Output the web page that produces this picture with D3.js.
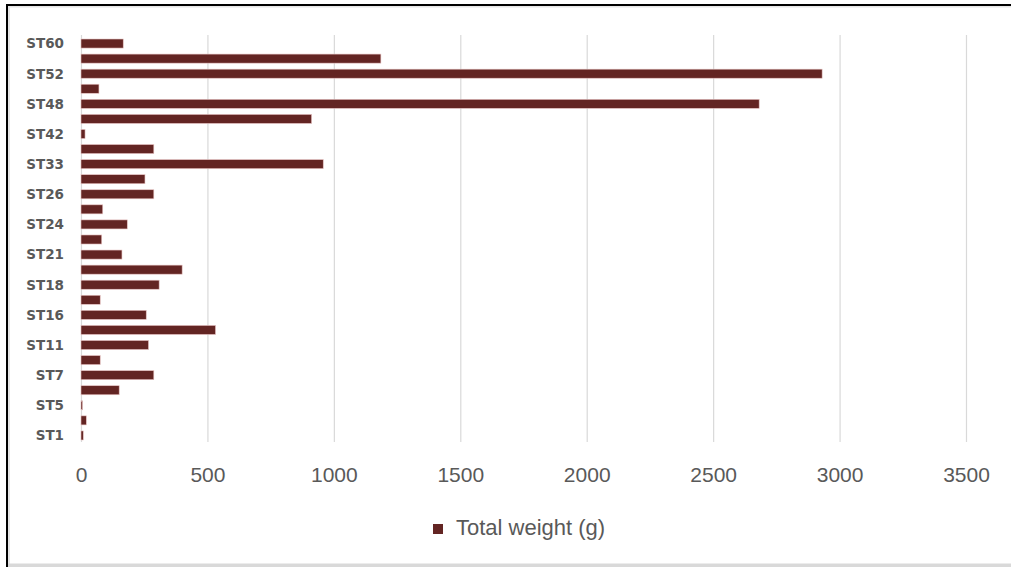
<!DOCTYPE html>
<html>
<head>
<meta charset="utf-8">
<script src="https://cdn.jsdelivr.net/npm/d3@7"></script>
<style>
  html, body { margin: 0; padding: 0; background: #ffffff; }
  svg { display: block; }
</style>
</head>
<body>
<svg id="chart" width="1011" height="567"></svg>
<script>
// ---- Data ----
const categories = ["ST1","ST3","ST5","ST6","ST7","ST9","ST11","ST14","ST16","ST17","ST18","ST20","ST21","ST23","ST24","ST25","ST26","ST30","ST33","ST40","ST42","ST45","ST48","ST50","ST52","ST55","ST60"];
const totalWeight = [9, 21, 6, 151, 288, 76, 267, 532, 258, 76, 309, 400, 162, 82, 183, 86, 288, 253, 958, 288, 16, 912, 2682, 71, 2931, 1186, 167];
const shownLabels = ["ST1","ST5","ST7","ST11","ST16","ST18","ST21","ST24","ST26","ST33","ST42","ST48","ST52","ST60"];
const xTicks = [0, 500, 1000, 1500, 2000, 2500, 3000, 3500];
const seriesName = "Total weight (g)";

const data = categories.map((c, i) => ({ cat: c, value: totalWeight[i] }));

const svg = d3.select("#chart");
const barColor = "#632523";
const textColor = "#595959";
const gridColor = "#d9d9d9";

// ---- Frame (screenshot borders) ----
svg.append("rect").attr("x", 8).attr("y", 6).attr("width", 2).attr("height", 561).attr("fill", "#e6e6e6");
svg.append("rect").attr("x", 8).attr("y", 6).attr("width", 1003).attr("height", 1.5).attr("fill", "#e6e6e6");
svg.append("rect").attr("x", 6).attr("y", 4).attr("width", 1005).attr("height", 2).attr("fill", "#000");
svg.append("rect").attr("x", 6).attr("y", 4).attr("width", 2).attr("height", 563).attr("fill", "#000");
svg.append("rect").attr("x", 8).attr("y", 563.5).attr("width", 1003).attr("height", 3.5).attr("fill", "#d9d9d9");

// ---- Scales ----
const x = d3.scaleLinear().domain([0, 3500]).range([81, 966]);
const y = d3.scaleBand().domain(categories).range([443, 36]).paddingInner(0.4).paddingOuter(0.2);

// ---- Gridlines ----
svg.append("g")
  .attr("transform", "translate(0,442)")
  .call(d3.axisBottom(x).tickValues(xTicks).tickSize(-(442 - 35)).tickFormat(""))
  .call(g => g.select(".domain").remove())
  .call(g => g.selectAll("line").attr("stroke", gridColor).attr("stroke-width", 1.2));

// ---- Bars ----
svg.append("g").selectAll("rect")
  .data(data)
  .join("rect")
  .attr("x", x(0))
  .attr("y", d => y(d.cat))
  .attr("width", d => x(d.value) - x(0))
  .attr("height", y.bandwidth())
  .attr("fill", barColor)
  .attr("stroke", "#e8c4c3")
  .attr("stroke-width", 0.6);

// ---- Y axis ----
svg.append("g")
  .attr("transform", "translate(81,0)")
  .call(d3.axisLeft(y).tickValues(shownLabels).tickSize(0).tickPadding(17))
  .call(g => g.select(".domain").remove())
  .call(g => g.selectAll("text")
    .attr("fill", textColor)
    .attr("dy", "0.36em")
    .style("font-family", "'DejaVu Sans', sans-serif")
    .style("font-weight", "bold")
    .style("font-size", "13.5px"));

// ---- X axis ----
svg.append("g")
  .attr("transform", "translate(0,443)")
  .call(d3.axisBottom(x).tickValues(xTicks).tickSize(0).tickPadding(24).tickFormat(d3.format("d")))
  .call(g => g.select(".domain").remove())
  .call(g => g.selectAll("text")
    .attr("fill", textColor)
    .style("font-family", "'Liberation Sans', sans-serif")
    .style("font-size", "21px"));

// ---- Legend ----
const legend = svg.append("g");
legend.append("rect").attr("x", 433).attr("y", 524).attr("width", 10).attr("height", 10).attr("fill", barColor);
legend.append("text")
  .attr("x", 456)
  .attr("y", 535)
  .attr("fill", textColor)
  .style("font-family", "'Liberation Sans', sans-serif")
  .style("font-size", "22px")
  .text(seriesName);
</script>
</body>
</html>
